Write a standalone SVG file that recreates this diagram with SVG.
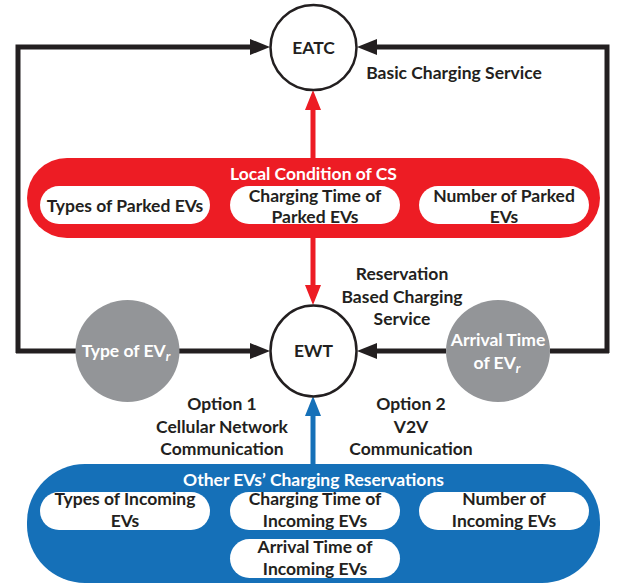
<svg xmlns="http://www.w3.org/2000/svg" width="621" height="588" viewBox="0 0 621 588">
  <style>
    text { font-family: Lato, "Liberation Sans", sans-serif; font-weight: bold; font-size: 17.5px; text-anchor: middle; fill: #231F20; }
    .w { fill: #FFFFFF; }
    .node { fill: #FFFFFF; stroke: #231F20; stroke-width: 2.5; }
    .gray { fill: #939598; }
    .pill { fill: #FFFFFF; }
    .blk { fill: none; stroke: #231F20; stroke-width: 5; stroke-linejoin: miter; }
    .red { stroke: #ED1C24; stroke-width: 5; fill: none; }
    .blue { stroke: #1570B8; stroke-width: 5; fill: none; }
  </style>
  <defs>
    <marker id="ahBlack" markerUnits="userSpaceOnUse" markerWidth="22" markerHeight="18" refX="10" refY="8" orient="auto">
      <path d="M0,0 L20,8 L0,16 z" fill="#231F20"/>
    </marker>
    <marker id="ahRed" markerUnits="userSpaceOnUse" markerWidth="22" markerHeight="18" refX="10" refY="8" orient="auto">
      <path d="M0,0 L20,8 L0,16 z" fill="#ED1C24"/>
    </marker>
    <marker id="ahBlue" markerUnits="userSpaceOnUse" markerWidth="22" markerHeight="18" refX="10" refY="8" orient="auto">
      <path d="M0,0 L20,8 L0,16 z" fill="#1570B8"/>
    </marker>
  </defs>

  <!-- connectors -->
  <g id="connectors">
    <polyline class="blk" points="18,353 18,47 260,47" marker-end="url(#ahBlack)"/>
    <polyline class="blk" points="607,353 607,47 367,47" marker-end="url(#ahBlack)"/>
    <line class="blk" x1="16" y1="351" x2="76" y2="351"/>
    <line class="blk" x1="179" y1="351" x2="260" y2="351" marker-end="url(#ahBlack)"/>
    <line class="blk" x1="609" y1="351" x2="550" y2="351"/>
    <line class="blk" x1="446" y1="351" x2="367" y2="351" marker-end="url(#ahBlack)"/>
    <line class="red" x1="313" y1="160" x2="313" y2="100" marker-end="url(#ahRed)"/>
    <line class="red" x1="313" y1="236" x2="313" y2="295" marker-end="url(#ahRed)"/>
    <line class="blue" x1="313" y1="466" x2="313" y2="406" marker-end="url(#ahBlue)"/>
  </g>

  <!-- EATC -->
  <g id="eatc">
    <ellipse class="node" cx="313.5" cy="47.5" rx="43" ry="42.5"/>
    <text x="313.5" y="53.5">EATC</text>
  </g>
  <g id="basic-label">
    <text x="454" y="79">Basic Charging Service</text>
  </g>

  <!-- Local condition of the charging station -->
  <g id="local-condition">
    <rect x="27" y="158" width="573" height="80" rx="40" fill="#ED1C24"/>
    <text class="w" x="313.5" y="180">Local Condition of CS</text>
    <rect class="pill" x="40" y="186" width="170" height="38" rx="19"/>
    <text x="125" y="212">Types of Parked EVs</text>
    <rect class="pill" x="230" y="186" width="170" height="38" rx="19"/>
    <text x="315" y="202">Charging Time of</text>
    <text x="315" y="223">Parked EVs</text>
    <rect class="pill" x="419" y="186" width="170" height="38" rx="19"/>
    <text x="504" y="202">Number of Parked</text>
    <text x="504" y="223">EVs</text>
  </g>

  <g id="reservation-label">
    <text x="402" y="280">Reservation</text>
    <text x="402" y="303">Based Charging</text>
    <text x="402" y="325">Service</text>
  </g>

  <!-- EWT -->
  <g id="ewt">
    <ellipse class="node" cx="313.5" cy="351" rx="43" ry="45.5"/>
    <text x="313.5" y="357">EWT</text>
  </g>

  <g id="type-evr">
    <ellipse class="gray" cx="127.5" cy="351" rx="52" ry="51"/>
    <text class="w" x="126" y="357">Type of EV<tspan font-size="13" font-style="italic" dy="4">r</tspan></text>
  </g>

  <g id="arrival-evr">
    <ellipse class="gray" cx="498" cy="351" rx="52" ry="51"/>
    <text class="w" x="498" y="346">Arrival Time</text>
    <text class="w" x="497" y="369">of EV<tspan font-size="13" font-style="italic" dy="4">r</tspan></text>
  </g>

  <g id="option1">
    <text x="222" y="410">Option 1</text>
    <text x="222" y="433">Cellular Network</text>
    <text x="222" y="455">Communication</text>
  </g>
  <g id="option2">
    <text x="411" y="410">Option 2</text>
    <text x="411" y="433">V2V</text>
    <text x="411" y="455">Communication</text>
  </g>

  <!-- Other EVs' charging reservations -->
  <g id="reservations">
    <rect x="27" y="464" width="573" height="119" rx="58" fill="#1570B8"/>
    <text class="w" x="313.5" y="486">Other EVs’ Charging Reservations</text>
    <rect class="pill" x="40" y="492" width="170" height="38" rx="19"/>
    <text x="125" y="505">Types of Incoming</text>
    <text x="125" y="527">EVs</text>
    <rect class="pill" x="230" y="492" width="170" height="38" rx="19"/>
    <text x="315" y="505">Charging Time of</text>
    <text x="315" y="527">Incoming EVs</text>
    <rect class="pill" x="419" y="492" width="170" height="38" rx="19"/>
    <text x="504" y="505">Number of</text>
    <text x="504" y="527">Incoming EVs</text>
    <rect class="pill" x="230" y="539" width="170" height="39" rx="19.5"/>
    <text x="315" y="553">Arrival Time of</text>
    <text x="315" y="575">Incoming EVs</text>
  </g>
</svg>
